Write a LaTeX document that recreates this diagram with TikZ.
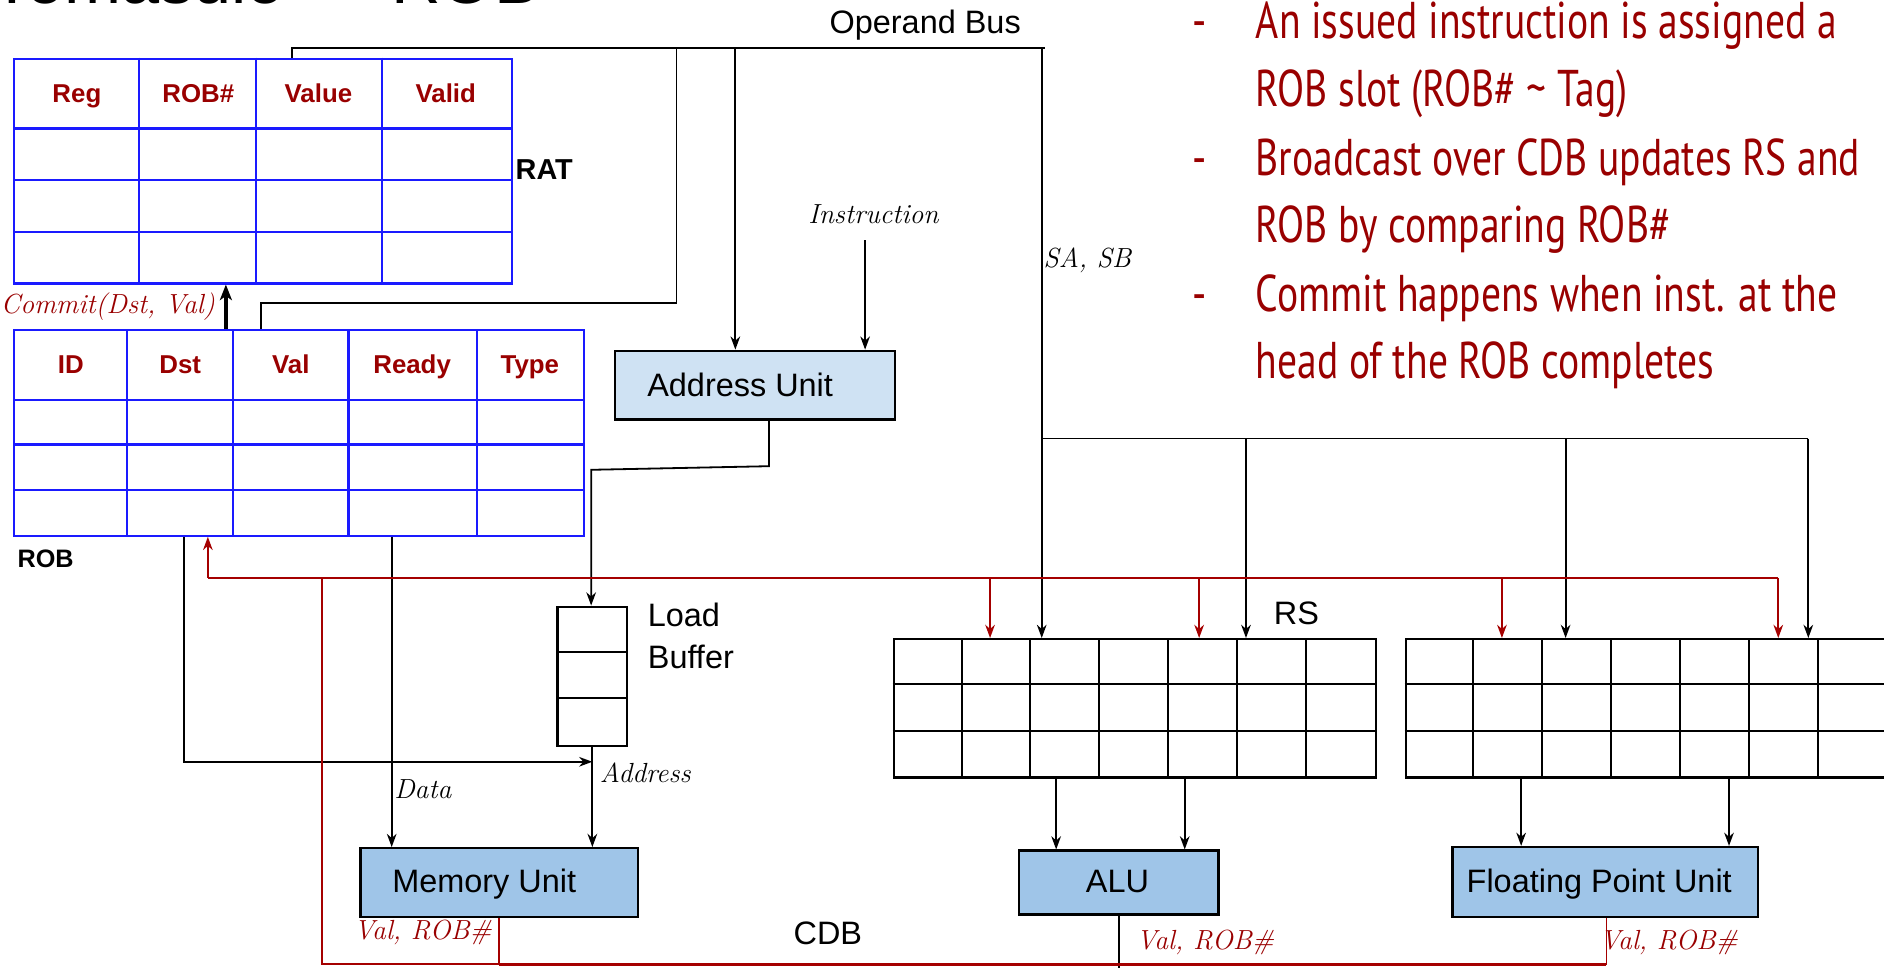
\documentclass[tikz,border=0pt]{standalone}
\usepackage{fontspec}
\newfontfamily\arialf{Liberation Sans}
\newfontfamily\bulletf[FakeStretch=0.766]{PT Sans}
\usetikzlibrary{arrows.meta}
\definecolor{dred}{HTML}{990000}
\definecolor{lred}{HTML}{A50000}
\definecolor{tblue}{HTML}{1A1AFF}
\definecolor{pale}{HTML}{CFE2F3}
\definecolor{unitb}{HTML}{9FC5E8}
\tikzset{
  wire/.style={line width=1.5pt, draw=black},
  arr/.style={wire, -{Stealth[length=11pt,width=8pt,inset=3.5pt]}},
  rwire/.style={line width=1.5pt, draw=lred},
  rarr/.style={rwire, -{Stealth[length=11pt,width=8pt,inset=3.5pt]}},
  bluetbl/.style={draw=tblue, line width=1.8pt, rectangle, inner sep=0pt, anchor=north west},
  bline/.style={draw=tblue, line width=1.8pt},
  blacktbl/.style={draw=black, line width=2pt, rectangle, inner sep=0pt, anchor=north west},
  kline/.style={draw=black, line width=1.7pt},
  unitbox/.style={draw=black, line width=2pt, fill=unitb, rectangle, inner sep=0pt, anchor=north west},
  hdr/.style={font=\arialf\bfseries\fontsize{21.5}{26}\selectfont, text=dred, inner sep=0pt, anchor=base},
  lbl/.style={font=\arialf\fontsize{27}{35}\selectfont, inner sep=0pt, anchor=base},
  boldlbl/.style={font=\arialf\bfseries\fontsize{24}{28}\selectfont, inner sep=0pt},
  itl/.style={font=\itshape\fontsize{23}{27}\selectfont, inner sep=0pt},
  ritl/.style={itl, text=dred},
  bul/.style={font=\bulletf\fontsize{43}{50}\selectfont, text=dred, anchor=base west, inner sep=0pt},
}
\begin{document}
\begin{tikzpicture}[x=1pt,y=-1pt]
\useasboundingbox (0,0) rectangle (1568,805);

% title, cut off by the top edge as in the slide
\node[font=\arialf\fontsize{57}{60}\selectfont, anchor=base west, inner sep=0pt] (title) at (-7,3) {Tomasulo — ROB};

% ---------- RAT ----------
\node[bluetbl, minimum width=414pt, minimum height=187pt] (rat) at (11,48) {};
\foreach \x in {116,213,318} \draw[bline] (\x,48) -- (\x,235);
\foreach \y in {107,150,193} \draw[bline] (11,\y) -- (425,\y);
\node[hdr] (ratReg) at (64,85) {Reg};
\node[hdr] (ratRob) at (165,85) {ROB\#};
\node[hdr] (ratVal) at (265,85) {Value};
\node[hdr] (ratValid) at (371,85) {Valid};
\node[boldlbl, anchor=west] (ratname) at (429,141) {RAT};

% ---------- ROB ----------
\node[bluetbl, minimum width=474pt, minimum height=171pt] (rob) at (11,274) {};
\foreach \x in {106,194,290,397} \draw[bline] (\x,274) -- (\x,445);
\foreach \y in {333,370,408} \draw[bline] (11,\y) -- (485,\y);
\node[hdr] (robID) at (59,311) {ID};
\node[hdr] (robDst) at (150,311) {Dst};
\node[hdr] (robVal) at (242,311) {Val};
\node[hdr] (robReady) at (343,311) {Ready};
\node[hdr] (robType) at (441,311) {Type};
\node[font=\arialf\bfseries\fontsize{21}{25}\selectfont, inner sep=0pt] (robname) at (38,465) {ROB};

\node[ritl, anchor=east] (commit) at (179,255) {Commit(Dst, Val)};

% ---------- units ----------
\node[unitbox, fill=pale, minimum width=233pt, minimum height=57pt] (addr) at (511,291) {};
\node[lbl] (addrT) at (616,330) {Address Unit};
\node[unitbox, minimum width=231pt, minimum height=57pt] (mem) at (299,705) {};
\node[lbl] (memT) at (403,743) {Memory Unit};
\node[unitbox, minimum width=166pt, minimum height=53pt] (alu) at (847,707) {};
\node[lbl] (aluT) at (930,743) {ALU};
\node[unitbox, minimum width=254pt, minimum height=58pt] (fp) at (1208,704) {};
\node[lbl] (fpT) at (1331,743) {Floating Point Unit};

% ---------- load buffer ----------
\node[blacktbl, minimum width=58pt, minimum height=116pt] (lb) at (463,504) {};
\foreach \y in {543,581} \draw[kline] (463,\y) -- (521,\y);
\node[lbl, anchor=base west] (lbT1) at (539,521) {Load};
\node[lbl, anchor=base west] (lbT2) at (539,556) {Buffer};

% ---------- reservation stations ----------
\node[blacktbl, minimum width=401pt, minimum height=115pt] (rsA) at (743,531) {};
\node[blacktbl, minimum width=401pt, minimum height=115pt] (rsB) at (1169,531) {};
\foreach \i in {1,...,6} {
  \draw[kline] (743+\i*57.29,531) -- (743+\i*57.29,646);
  \draw[kline] (1169+\i*57.29,531) -- (1169+\i*57.29,646);
}
\foreach \y in {569,608} {
  \draw[kline] (743,\y) -- (1144,\y);
  \draw[kline] (1169,\y) -- (1570,\y);
}
\node[lbl] (rsT) at (1079,520) {RS};

% ---------- labels ----------
\node[lbl] (opbus) at (770,28) {Operand Bus};
\node[itl] (instr) at (727,178) {Instruction};
\node[itl] (sasb) at (905,217) {SA, SB};
\node[itl, anchor=west] (dataL) at (328,657) {Data};
\node[itl, anchor=west] (addrL) at (499,643) {Address};
\node[lbl] (cdbT) at (689,786) {CDB};
\node[ritl] (vr1) at (352,776) {Val, ROB\#};
\node[ritl] (vr2) at (1003,784) {Val, ROB\#};
\node[ritl] (vr3) at (1389,784) {Val, ROB\#};

% ---------- black connectors ----------
\coordinate (obL) at (243,40);
\coordinate (obR) at (870,40);
\draw[wire] (obL |- rat.north) -- (obL) -- (obR);
\coordinate (robUp) at (217,252);
\coordinate (robUpR) at (563,252);
\draw[wire] (robUp |- rob.north) -- (robUp) -- (robUpR) -- (robUpR |- obR);
\coordinate (obA) at (612,40);
\draw[arr] (obA) -- (obA |- addr.north);
\coordinate (insS) at (720,200);
\draw[arr] (insS) -- (insS |- addr.north);
\coordinate (a1) at (640,388);
\coordinate (a2) at (492,391);
\draw[arr] (a1 |- addr.south) -- (a1) -- (a2) -- (a2 |- lb.north);
\draw[arr] (lb.south) -- (lb.south |- mem.north);
\coordinate (dstD) at (153,634);
\draw[arr] (dstD |- rob.south) -- (dstD) -- (dstD -| lb.south);
\coordinate (rdy) at (326,500);
\draw[arr] (rdy |- rob.south) -- (rdy |- mem.north);
\draw[line width=2.8pt, -{Stealth[length=13pt,width=10pt,inset=3.5pt]}] (188,274) coordinate (cmS) -- (cmS |- rat.south);

\coordinate (sab) at (867,365);
\coordinate (sabR) at (1505,365);
\coordinate (s2) at (1037,365);
\coordinate (s3) at (1303,365);
\draw[wire] (sab |- obR) -- (sab) -- (sabR);
\draw[arr] (sab) -- (sab |- rsA.north);
\draw[arr] (s2) -- (s2 |- rsA.north);
\draw[arr] (s3) -- (s3 |- rsB.north);
\draw[arr] (sabR) -- (sabR |- rsB.north);

\coordinate (u1) at (879,700);
\coordinate (u2) at (986,700);
\coordinate (u3) at (1266,700);
\coordinate (u4) at (1439,700);
\draw[arr] (u1 |- rsA.south) -- (u1 |- alu.north);
\draw[arr] (u2 |- rsA.south) -- (u2 |- alu.north);
\draw[arr] (u3 |- rsB.south) -- (u3 |- fp.north);
\draw[arr] (u4 |- rsB.south) -- (u4 |- fp.north);
\coordinate (aluO) at (931,806);
\draw[wire] (aluO |- alu.south) -- (aluO);

% ---------- red CDB ----------
\coordinate (cdbL) at (173,481);
\coordinate (cdbR) at (1480,481);
\draw[rwire] (cdbL) -- (cdbR);
\draw[rarr] (cdbL) -- (cdbL |- rob.south);
\foreach \x/\n in {824/r1,998/r2,1250/r3} {
  \coordinate (\n) at (\x,481);
  \draw[rarr] (\n) -- (\n |- rsA.north);
}
\draw[rarr] (cdbR) -- (cdbR |- rsB.north);
\coordinate (cdbV) at (268,481);
\coordinate (cdbB) at (268,802);
\coordinate (cdbB2) at (520,802);
\draw[rwire] (cdbV) -- (cdbB) -- (cdbB2);
\coordinate (memO) at (415,803);
\coordinate (fpO) at (1337,803);
\draw[rwire] (memO |- mem.south) -- (memO);
\draw[rwire] (fpO |- fp.south) -- (fpO);
\draw[rwire, line width=2.6pt] (memO) -- (fpO);

% ---------- bullets ----------
\node[bul] (d1) at (992,32) {-};
\node[bul] (b1) at (1045,32) {An issued instruction is assigned a};
\node[bul] (b2) at (1045,89) {ROB slot (ROB\# \textasciitilde{} Tag)};
\node[bul] (d2) at (992,146) {-};
\node[bul] (b3) at (1045,146) {Broadcast over CDB updates RS and};
\node[bul] (b4) at (1045,202) {ROB by comparing ROB\#};
\node[bul] (d3) at (992,259) {-};
\node[bul] (b5) at (1045,259) {Commit happens when inst. at the};
\node[bul] (b6) at (1045,315) {head of the ROB completes};
\end{tikzpicture}
\end{document}
